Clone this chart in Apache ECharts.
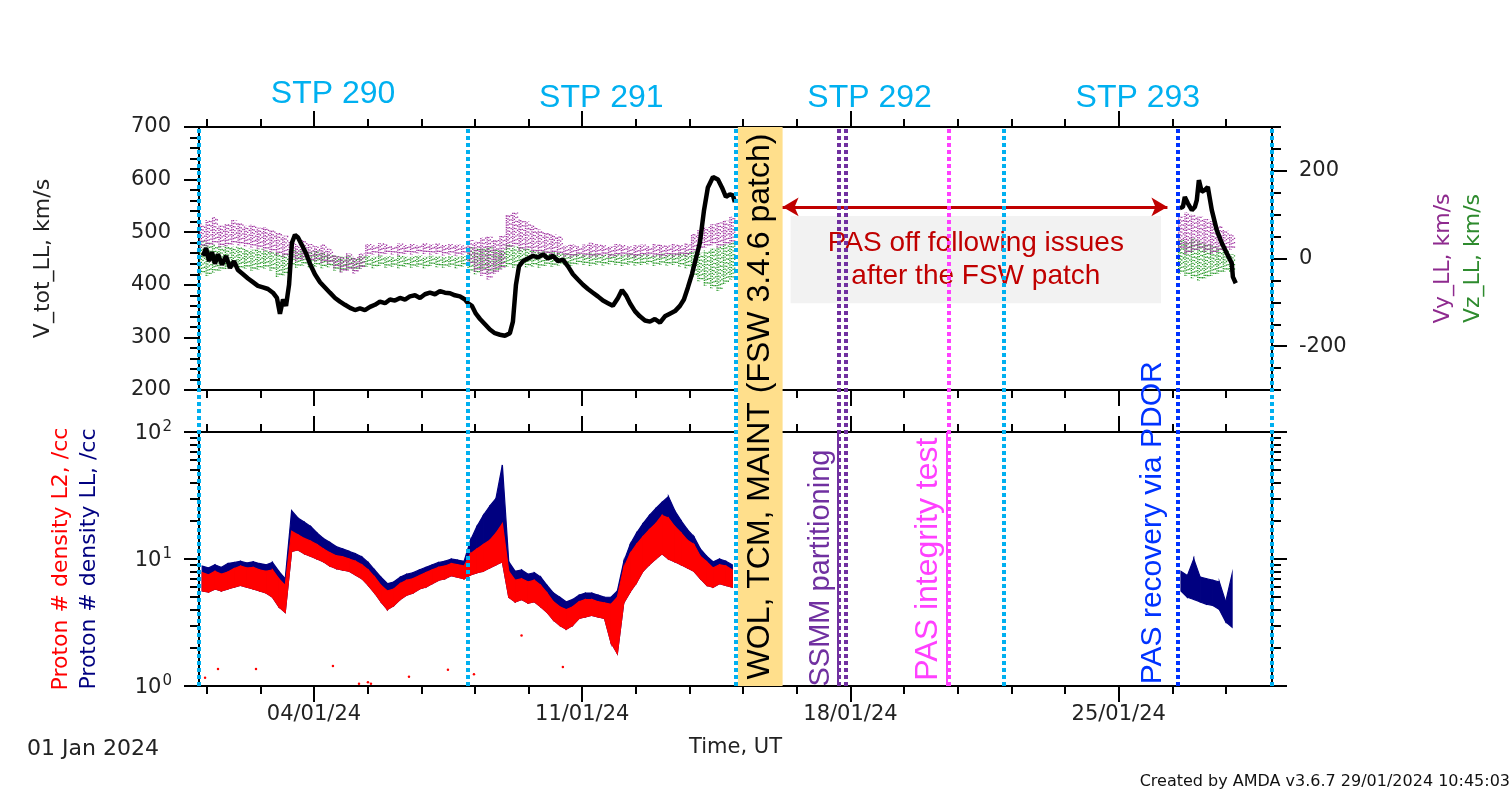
<!DOCTYPE html>
<html><head><meta charset="utf-8">
<script src="https://cdn.jsdelivr.net/npm/echarts@6/dist/echarts.min.js"></script>
<style>html,body{margin:0;padding:0;background:#fff}#c{width:1512px;height:793px}</style>
</head><body><div id="c"></div>
<script>
// ---------- time axis (hours since 01 Jan 2024 00:00 UT) ----------
const minorTickHours = [4.8,38.4,72,105.6,139.2,172.8,206.4,240,273.6,307.2,340.8,374.4,408,441.6,475.2,508.8,542.4,576,609.6,643.2];
const majorTickHours = [72,240,408,576];
const majorTickLabels = ['04/01/24','11/01/24','18/01/24','25/01/24'];
const stpCenterHours = [84,252,420,588];
const stpLabels = ['STP 290','STP 291','STP 292','STP 293'];
const stpBoundaryHours = [0,168,336,504,672];

// ---------- velocity / density axes ticks ----------
const rightMajorTicks = [-200,0,200];
const logMajorTicks = [1,10,100];
const logMajorExponents = ['0','1','2'];
const logMinorTicks = [2,3,4,5,6,7,8,9,20,30,40,50,60,70,80,90];

// ---------- V_tot_LL (km/s), black line ----------
const vTotHours = [2.5,4.4,6.3,8.1,10,11.9,14.4,16.9,19.4,21.9,24.4,27.6,30.7,33.8,36.9,40.1,43.2,46.3,48.8,50.7,52.6,54.5,56.4,58.2,60.1,62,64.5,67,69.5,72.6,75.8,78.9,82,85.2,88.3,91.4,94.6,97.7,100.8,103.9,107.1,110.2,113.3,116.5,119.6,122.7,125.9,129,132.1,135.3,138.4,141.5,144.6,147.8,150.9,154,157.2,160.3,163.4,166.6,168.4,170.9,173.4,176,179.1,182.2,185.3,188.5,191.6,194.7,196.6,198.5,200.4,202.9,206,209.1,212.3,215.4,218.5,221.7,224.8,227.9,231.1,234.2,237.3,240.5,243.6,246.7,249.8,253,256.1,259.2,262.4,264.9,267.4,269.9,273,276.1,279.3,282.4,285.5,288.7,291.8,294.9,298.1,301.2,303.7,306.2,308.7,311.2,313.7,316.2,318.7,321.9,325,327.5,330,332.5,334.4,335.6,
  450,
  614.3,616.2,617.4,619.3,621.8,623.7,624.9,626.2,628,629.9,631.8,634.3,637.4,640.6,643.7,646.8,647.5,649.3];
const vTotValues = [455,470,445,462,440,458,438,455,432,445,428,420,412,405,398,395,392,385,375,345,372,360,400,480,495,490,475,460,440,420,405,395,385,375,368,362,356,352,355,352,358,362,368,365,372,370,375,372,378,380,375,382,385,382,388,385,384,380,378,372,365,360,345,335,325,315,308,305,303,308,330,400,435,445,450,455,452,458,450,455,445,448,435,420,410,400,392,385,378,370,365,360,375,390,380,365,350,340,332,330,335,328,340,345,350,360,372,395,420,450,480,540,585,605,600,585,567,572,570,557,
  null,
  546,548,567,555,542,548,561,599,577,580,586,542,504,479,460,441,415,403];

// ---------- 4-hour bins, segment A (01-15 Jan) ----------
const binHoursA = [0,4,8,12,16,20,24,28,32,36,40,44,48,52,56,60,64,68,72,76,80,84,88,92,96,100,104,108,112,116,120,124,128,132,136,140,144,148,152,156,160,164,168,172,176,180,184,188,192,196,200,204,208,212,216,220,224,228,232,236,240,244,248,252,256,260,264,268,272,276,280,284,288,292,296,300,304,308,312,316,320,324,328,332];
// Vy_LL (km/s) low / high per bin
const vyLowA = [25,28,32,26,28,32,30,28,25,22,18,14,8,4,-2,-6,-2,-8,-6,-10,-12,-22,-32,-28,-34,-24,6,9,7,10,9,7,10,9,12,10,9,10,7,9,6,9,-15,-30,-40,-48,-35,-25,22,28,18,20,12,12,8,10,8,4,2,6,4,2,4,6,2,5,6,4,2,5,6,4,2,5,4,6,5,14,20,25,30,25,30,34];
const vyHighA = [80,88,95,75,80,88,82,75,78,70,72,64,58,52,38,33,42,33,28,32,22,8,4,12,4,12,33,30,35,32,28,34,31,33,30,35,32,34,31,33,32,30,42,38,48,50,42,52,100,105,90,85,76,66,60,56,50,30,33,28,32,36,34,30,28,33,31,28,30,32,28,34,32,30,33,31,34,56,66,72,78,82,86,95];
// Vz_LL (km/s) low / high per bin
const vzLowA = [-36,-40,-32,-28,-24,-20,-25,-23,-28,-25,-23,-28,-42,-38,-18,-21,-16,-20,-18,-22,-20,-28,-30,-26,-28,-23,-19,-22,-17,-21,-19,-22,-18,-21,-19,-22,-17,-20,-21,-19,-22,-18,-32,-36,-28,-32,-30,-23,-18,-21,-16,-20,-18,-21,-17,-19,-16,-14,-17,-13,-15,-17,-14,-16,-13,-15,-17,-14,-16,-15,-13,-17,-14,-16,-15,-18,-22,-42,-52,-62,-68,-74,-58,-48];
const vzHighA = [42,36,32,28,30,27,25,22,20,22,18,16,13,10,20,18,20,16,18,13,10,6,4,7,2,5,6,4,7,5,3,6,4,5,7,4,6,5,3,6,4,5,27,22,25,27,20,18,32,27,25,22,20,18,16,14,13,12,10,11,9,12,10,9,11,10,9,12,10,11,9,9,12,10,11,13,16,16,13,18,22,27,32,36];
// Proton density (/cc) per bin
const redLowA = [5.6,5.5,5.8,5.6,5.8,6.0,6.2,6.0,5.8,5.6,5.4,5.0,4.2,3.8,11.5,11.8,11.0,10.5,10.0,9.5,8.8,8.4,8.2,8.0,7.5,7.0,6.2,5.4,4.6,4.0,4.3,4.8,5.2,5.4,5.8,6.0,6.4,6.8,7.0,7.4,7.2,7.0,7.5,7.8,8.0,8.5,9.0,9.5,5.0,4.6,4.8,4.5,4.6,4.2,3.8,3.3,3.0,2.8,3.0,3.4,3.5,3.6,3.5,3.4,2.2,1.8,4.5,5.5,6.5,8.0,9.0,10,11,10,9.5,9.0,8.5,8.0,7.0,6.2,6.0,6.4,6.2,6.0];
const redHighA = [7.8,7.5,8.0,7.6,7.9,8.4,8.8,8.5,8.6,8.2,8.0,8.2,7.0,6.2,16.5,15.5,14.5,13.8,13.0,12.0,11.2,10.6,10.4,10.0,9.6,9.0,8.2,7.2,6.2,5.6,5.8,6.4,6.8,7.0,7.4,7.8,8.2,8.6,8.8,9.2,9.0,8.8,11,12,13,14,16,19,8.0,6.8,7.0,6.6,6.8,6.2,5.4,4.6,4.2,4.0,4.2,4.6,4.8,4.8,4.6,4.5,4.4,5.0,8.5,11,13,15,17,19,22,21,18,16,14,13,10.5,9.5,8.5,9.0,8.8,8.2];
const navyHighA = [8.8,8.5,9.0,8.6,9.2,9.4,9.6,9.3,9.5,9.2,9.0,9.4,8.0,7.0,24,21,19.5,18,16,14.5,13.5,12.5,12,11.5,11,10.4,9.4,8.2,7.2,6.4,6.6,7.2,7.6,7.8,8.2,8.6,9.0,9.4,9.6,10,9.8,9.6,14,18,22,26,30,55,9.5,8,8.2,7.6,7.8,7.2,6.2,5.4,5.0,4.6,4.8,5.2,5.4,5.4,5.2,5.0,5.0,5.6,9.5,13,16,19,22,25,28,31,24,20,17,15,12,10.5,9.5,10,9.6,9.0];

// ---------- 4-hour bins, segment B (26-27 Jan) ----------
const binHoursB = [613,617,621,625,629,633,637,641,645];
const vyLowB = [20,10,15,20,15,10,15,20,20];
const vyHighB = [95,105,100,95,90,85,75,65,55];
const vzLowB = [-35,-40,-45,-50,-45,-40,-35,-30,-30];
const vzHighB = [45,40,45,40,35,30,25,20,10];
const navyLowB = [5.6,5.0,4.8,4.6,4.4,4.3,4.0,3.2,2.9];
const navyHighB = [8.0,7.4,10.0,7.2,7.0,6.8,6.6,4.6,7.6];

// isolated L2 density points
const strayHours = [3.8,11.9,35.7,83.9,100.2,105.8,107.7,131.5,155.9,172.2,202,227.9];
const strayValues = [1.16,1.36,1.36,1.44,1.04,1.07,1.04,1.18,1.34,1.24,2.5,1.41];

// ---------- events (hours) ----------
const ssmmHours = [400.5,405.3];
const integrityHour = 469.8;
const recoveryHour = 613.2;
const patchBand = [337.5,365.5];
const pasOffSpan = [370.5,603.5];

const BIN_H = 4;
const FONT = 'DejaVu Sans';
const AFONT = 'Liberation Sans';
const TXT = '#222';
const LS = {color:'#000', width:2};

function bins(h, lo, hi){ return h.map((v,i)=>[v, lo[i], hi[i]]); }
function ribbon(h, lo, hi){
  const out = [];
  for (let i=0;i<h.length-1;i++) out.push([h[i]+BIN_H/2, lo[i], hi[i], h[i+1]+BIN_H/2, lo[i+1], hi[i+1]]);
  return out;
}
const vyData = bins(binHoursA, vyLowA, vyHighA).concat(bins(binHoursB, vyLowB, vyHighB));
const vzData = bins(binHoursA, vzLowA, vzHighA).concat(bins(binHoursB, vzLowB, vzHighB));
const redData = ribbon(binHoursA, redLowA, redHighA);
const navyData = ribbon(binHoursA, redLowA, navyHighA).concat(ribbon(binHoursB, navyLowB, navyHighB));
const vTotData = vTotHours.map((h,i)=>[h, vTotValues[i]]);
const strayData = strayHours.map((h,i)=>[h, strayValues[i]]);

function ribbonItem(color){
  return function(params, api){
    const p1 = api.coord([api.value(0), api.value(1)]);
    const p2 = api.coord([api.value(3), api.value(4)]);
    const p3 = api.coord([api.value(3), api.value(5)]);
    const p4 = api.coord([api.value(0), api.value(2)]);
    return {type:'polygon', shape:{points:[p1,p2,p3,p4]}, style:{fill:color, stroke:color, lineWidth:1.2}};
  };
}
function dotBand(color){
  return function(params, api){
    const a = api.coord([api.value(0), api.value(1)]);
    const b = api.coord([api.value(0)+BIN_H, api.value(2)]);
    const w = b[0]-a[0];
    const ch = [];
    for (let k=0;k<4;k++){
      const x = a[0] + w*(k+0.5)/4;
      ch.push({type:'line', shape:{x1:x,y1:a[1],x2:x,y2:b[1]}, style:{stroke:color, lineWidth:1.3, lineDash:[1.3,1.0+k*0.7], lineDashOffset:k*0.8, opacity:1}});
    }
    return {type:'group', children:ch};
  };
}

function hx(grid, pos, vals, len, line, extra){
  return Object.assign({
    gridIndex:grid, type:'value', min:0, max:672, position:pos,
    axisLine:{show:line, onZero:false, lineStyle:LS},
    axisTick:{show:true, inside:false, length:len, customValues:vals, lineStyle:LS},
    axisLabel:{show:false}, splitLine:{show:false}
  }, extra||{});
}
function ly(grid, pos, vals, len, line, extra){
  return Object.assign({
    gridIndex:grid, type:'log', logBase:10, min:1, max:100, position:pos,
    axisLine:{show:line, onZero:false, lineStyle:LS},
    axisTick:{show:true, inside:false, length:len, customValues:vals, lineStyle:LS},
    axisLabel:{show:false}, splitLine:{show:false}
  }, extra||{});
}

const vLineData = stpBoundaryHours.map(h=>({xAxis:h, lineStyle:{color:'#00B0F0'}}))
  .concat(ssmmHours.map(h=>({xAxis:h, lineStyle:{color:'#7030A0'}})))
  .concat([{xAxis:integrityHour, lineStyle:{color:'#FF40FF'}}, {xAxis:recoveryHour, lineStyle:{color:'#0033FF'}}]);

function vText(h, frac, text, color, size){
  return {value:[h, frac], itemStyle:{opacity:1},
    label:{show:true, formatter:text, color:color, opacity:1, fontSize:size, fontFamily:AFONT, rotate:90, position:'inside', align:'center', verticalAlign:'middle'}};
}

const option = {
  animation:false,
  backgroundColor:'#fff',
  textStyle:{fontFamily:FONT},
  title:[
    {text:'01 Jan 2024', left:27, top:738, padding:0, textStyle:{fontSize:22, fontWeight:'normal', color:TXT, fontFamily:FONT}},
    {text:'Created by AMDA v3.6.7 29/01/2024 10:45:03', right:2, top:774, padding:0, textStyle:{fontSize:16, fontWeight:'normal', color:'#111', fontFamily:FONT}}
  ],
  grid:[
    {left:199, top:127, width:1073, height:263},
    {left:199, top:432, width:1073, height:254},
    {left:199, top:127, width:1073, height:559}
  ],
  xAxis:[
    hx(0,'bottom',minorTickHours,8,true),
    hx(0,'bottom',majorTickHours,16,false),
    hx(0,'top',minorTickHours,8,true),
    hx(0,'top',majorTickHours,16,false),
    hx(1,'bottom',minorTickHours,8,true),
    hx(1,'bottom',majorTickHours,16,false,{
      axisLabel:{show:true, customValues:majorTickHours, formatter:v=>majorTickLabels[majorTickHours.indexOf(v)], margin:18, fontSize:21, color:TXT, fontFamily:FONT},
      name:'Time, UT', nameLocation:'middle', nameGap:51, nameTextStyle:{fontSize:21, color:TXT, fontFamily:FONT}
    }),
    hx(1,'top',minorTickHours,8,true),
    hx(1,'top',majorTickHours,16,false),
    {gridIndex:2, type:'value', min:0, max:672, position:'top',
     axisLine:{show:false}, axisTick:{show:false}, splitLine:{show:false},
     axisLabel:{show:true, customValues:stpCenterHours,
       formatter:v=>{const i=stpCenterHours.indexOf(v); return (i===0?'{u|':'{n|')+stpLabels[i]+'}';},
       margin:13, fontSize:32, color:'#00B0F0', fontFamily:AFONT,
       rich:{n:{fontSize:32, color:'#00B0F0', fontFamily:AFONT}, u:{fontSize:32, color:'#00B0F0', fontFamily:AFONT, padding:[0,0,4,0]}}}}
  ],
  yAxis:[
    {gridIndex:0, type:'value', min:200, max:700, interval:100, position:'left',
     axisLine:{show:true, onZero:false, lineStyle:LS},
     axisTick:{show:true, inside:false, length:15, lineStyle:LS},
     minorTick:{show:true, splitNumber:5, length:9, lineStyle:LS},
     axisLabel:{margin:28, fontSize:21, color:TXT, fontFamily:FONT},
     splitLine:{show:false}, minorSplitLine:{show:false},
     name:'V_tot_LL, km/s', nameLocation:'middle', nameRotate:90, nameGap:145,
     nameTextStyle:{fontSize:22, color:TXT, fontFamily:FONT}},
    {gridIndex:0, type:'value', min:-300, max:300, interval:100, position:'right',
     axisLine:{show:true, onZero:false, lineStyle:LS},
     axisTick:{show:true, inside:false, length:15, customValues:rightMajorTicks, lineStyle:LS},
     axisLabel:{show:true, customValues:rightMajorTicks, margin:27, fontSize:21, color:TXT, fontFamily:FONT},
     splitLine:{show:false},
     name:'{p|Vy_LL, km/s}\n{g|Vz_LL, km/s}', nameLocation:'middle', nameRotate:90, nameGap:156,
     nameTextStyle:{fontFamily:FONT, rich:{p:{color:'#8E2A8E', fontSize:22, lineHeight:30, fontFamily:FONT}, g:{color:'#2E8B2E', fontSize:22, lineHeight:30, fontFamily:FONT}}}},
    {gridIndex:0, type:'value', min:-300, max:300, interval:50, position:'right',
     axisLine:{show:false, onZero:false}, axisTick:{show:true, inside:false, length:9, lineStyle:LS},
     axisLabel:{show:false}, splitLine:{show:false}},
    ly(1,'left',logMajorTicks,15,true,{
      axisLabel:{show:true, customValues:logMajorTicks,
        formatter:v=>'{b|10}{s|'+logMajorExponents[logMajorTicks.indexOf(v)]+'}',
        margin:27, color:TXT, fontFamily:FONT,
        rich:{b:{fontSize:21, color:TXT, fontFamily:FONT, padding:[4,0,0,0]}, s:{fontSize:15, color:TXT, fontFamily:FONT, verticalAlign:'top', padding:[0,0,0,1]}}},
      name:'{r|Proton # density L2, /cc}\n{b|Proton # density LL, /cc}', nameLocation:'middle', nameRotate:90, nameGap:96,
      nameTextStyle:{fontFamily:FONT, rich:{r:{color:'#FF0000', fontSize:22, lineHeight:28, fontFamily:FONT}, b:{color:'#000080', fontSize:22, lineHeight:28, fontFamily:FONT}}}
    }),
    ly(1,'left',logMinorTicks,9,false),
    ly(1,'right',logMajorTicks,15,true),
    ly(1,'right',logMinorTicks,9,false),
    {gridIndex:2, type:'value', min:0, max:1, show:false}
  ],
  series:[
    {type:'custom', name:'Vz_LL', xAxisIndex:0, yAxisIndex:1, renderItem:dotBand('#2A9A2A'), data:vzData, encode:{x:0, y:[1,2]}, z:2, silent:true},
    {type:'custom', name:'Vy_LL', xAxisIndex:0, yAxisIndex:1, renderItem:dotBand('#A032A0'), data:vyData, encode:{x:0, y:[1,2]}, z:2, silent:true},
    {type:'line', name:'V_tot_LL', xAxisIndex:0, yAxisIndex:0, data:vTotData, showSymbol:false, connectNulls:false,
     lineStyle:{color:'#000', width:4.5}, z:3, silent:true,
     markArea:{silent:true, data:[[{coord:[pasOffSpan[0], 531], itemStyle:{color:'#F2F2F2'},
        label:{show:true, position:'inside', formatter:'PAS off following issues\nafter the FSW patch', color:'#C00000', fontSize:28, lineHeight:33, fontFamily:AFONT}},
        {coord:[pasOffSpan[1]-1, 365]}]]},
     markLine:{silent:true, symbol:['arrow','arrow'], symbolSize:[14,16], label:{show:false},
        lineStyle:{color:'#C00000', width:3, type:'solid'},
        data:[[{coord:[pasOffSpan[0]-5, 548]}, {coord:[pasOffSpan[1]+3, 548]}]]}},
    {type:'custom', name:'Proton density LL', xAxisIndex:4, yAxisIndex:3, renderItem:ribbonItem('#000080'), data:navyData, encode:{x:[0,3], y:[1,2,4,5]}, z:2, silent:true},
    {type:'custom', name:'Proton density L2', xAxisIndex:4, yAxisIndex:3, renderItem:ribbonItem('#FF0000'), data:redData, encode:{x:[0,3], y:[1,2,4,5]}, z:3, silent:true,
     markLine:{silent:true, symbol:'none', label:{show:false}, lineStyle:{width:2, type:'solid'},
       data:[{xAxis:ssmmHours[0]-0.5, lineStyle:{color:'#7030A0'}}, {xAxis:integrityHour-1.2, lineStyle:{color:'#FF40FF'}}]}},
    {type:'scatter', name:'L2 isolated', xAxisIndex:4, yAxisIndex:3, data:strayData, symbolSize:2.5, itemStyle:{color:'#FF0000', opacity:1}, z:3, silent:true},
    {type:'scatter', name:'events', xAxisIndex:8, yAxisIndex:7, symbolSize:0, z:5, silent:true, itemStyle:{opacity:1},
     data:[
       vText((patchBand[0]+patchBand[1])/2, 0.5, 'WOL, TCM, MAINT (FSW 3.4.6 patch)', '#000', 32),
       vText(389.5, 0.211, 'SSMM partitioning', '#7030A0', 29),
       vText(456.5, 0.227, 'PAS integrity test', '#FF40FF', 32),
       vText(597.4, 0.292, 'PAS recovery via PDOR', '#0033FF', 30)
     ],
     markArea:{silent:true, itemStyle:{color:'#FFDF8C', opacity:1}, data:[[{xAxis:patchBand[0]}, {xAxis:patchBand[1]}]]},
     markLine:{silent:true, symbol:'none', label:{show:false}, lineStyle:{width:4, type:[4,3], opacity:1}, data:vLineData}}
  ]
};
const chart = echarts.init(document.getElementById('c'));
chart.setOption(option);
</script></body></html>
